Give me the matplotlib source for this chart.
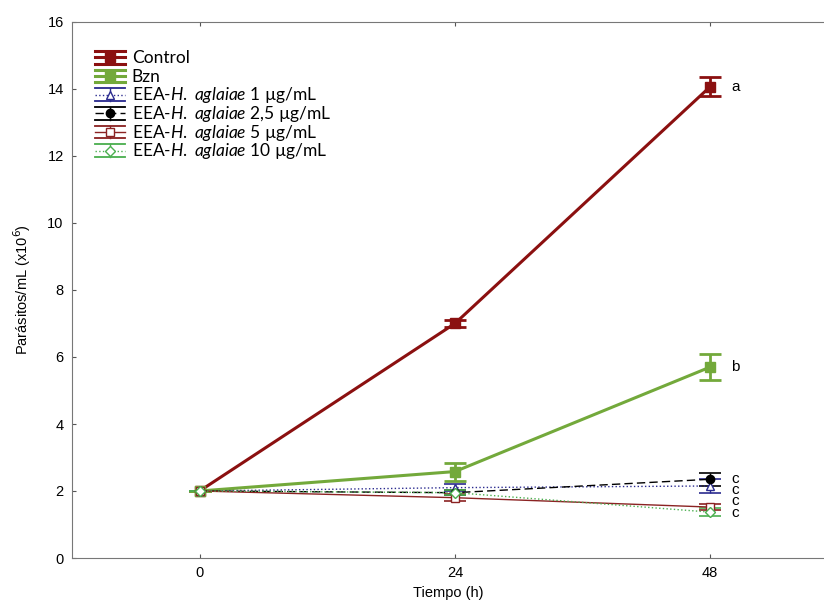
import matplotlib
matplotlib.use("Agg")
import matplotlib.pyplot as plt
from matplotlib.legend_handler import HandlerBase
from matplotlib.lines import Line2D

tiempo = [0, 24, 48]

control = [2.0, 7.0, 14.07]
control_err = [0.0, 0.1, 0.28]
bzn = [2.0, 2.58, 5.7]
bzn_err = [0.0, 0.27, 0.4]
eea1 = [2.0, 2.1, 2.15]
eea1_err = [0.0, 0.1, 0.2]
eea25 = [2.0, 1.95, 2.35]
eea25_err = [0.0, 0.08, 0.2]
eea5 = [2.0, 1.8, 1.52]
eea5_err = [0.0, 0.1, 0.08]
eea10 = [2.0, 1.95, 1.37]
eea10_err = [0.0, 0.08, 0.12]

labels = ["Control", "Bzn",
          "EEA-$\\it{H.\\ aglaiae}$ 1 µg/mL",
          "EEA-$\\it{H.\\ aglaiae}$ 2,5 µg/mL",
          "EEA-$\\it{H.\\ aglaiae}$ 5 µg/mL",
          "EEA-$\\it{H.\\ aglaiae}$ 10 µg/mL"]
letters = ["a", "b", "c", "c", "c", "c"]
letter_y = [14.07, 5.7, 2.36, 2.03, 1.70, 1.34]

plt.rcParams['font.family'] = ['Liberation Sans', 'DejaVu Sans']
plt.rcParams['mathtext.fontset'] = 'custom'
plt.rcParams['mathtext.it'] = 'Lato:italic'
plt.rcParams['mathtext.rm'] = 'Lato'

fig = plt.figure(figsize=(8.24, 6.14), dpi=100)
ax = fig.add_axes([72/824, 56/614, 1 - 72/824, (558-22)/614])

red = "#8B1010"
green = "#73A93B"
blue = "#2B2B8F"
brown = "#8B2323"
lgreen = "#4CAF50"

series = [
    (control, control_err, dict(color=red, lw=2.2, ls='-', marker='s', ms=7, mfc=red, mec=red, capsize=8, elinewidth=2, capthick=2)),
    (bzn, bzn_err, dict(color=green, lw=2.2, ls='-', marker='s', ms=7, mfc=green, mec=green, capsize=8, elinewidth=2, capthick=2)),
    (eea1, eea1_err, dict(color=blue, lw=1, ls=':', marker='^', ms=6, mfc='white', mec=blue, capsize=8, elinewidth=1, capthick=1.2)),
    (eea25, eea25_err, dict(color='black', lw=1, ls=(0, (6, 3)), marker='o', ms=6, mfc='black', mec='black', capsize=8, elinewidth=1, capthick=1.2)),
    (eea5, eea5_err, dict(color=brown, lw=1, ls='-', marker='s', ms=6, mfc='white', mec=brown, capsize=8, elinewidth=1, capthick=1.2)),
    (eea10, eea10_err, dict(color=lgreen, lw=1, ls=':', marker='D', ms=5, mfc='white', mec=lgreen, capsize=8, elinewidth=1, capthick=1.2)),
]

HH = 1.6


class StatHandler(HandlerBase):
    def __init__(self, kw):
        super().__init__()
        self.kw = kw

    def create_artists(self, legend, orig_handle, xdescent, ydescent, width, height, fontsize, trans):
        kw = self.kw
        yc = 0.33 * fontsize
        x0, x1 = -xdescent, width - xdescent
        xm = (x0 + x1) / 2
        cap = 4.6
        artists = []
        lw_cap = kw['capthick'] * 1.1
        for yy in (yc + cap, yc - cap):
            artists.append(Line2D([x0, x1], [yy, yy], color=kw['color'], lw=lw_cap, transform=trans))
        artists.append(Line2D([xm, xm], [yc - cap, yc + cap], color=kw['color'], lw=kw['elinewidth'], transform=trans))
        artists.append(Line2D([x0, x1], [yc, yc], color=kw['color'], lw=kw['lw'], ls=kw['ls'], transform=trans))
        artists.append(Line2D([xm], [yc], marker=kw['marker'], ms=kw['ms'], mfc=kw['mfc'], mec=kw['mec'], ls='none', transform=trans))
        return artists


handles = []
hmap = {}
for (y, e, kw), lab in zip(series, labels):
    h = ax.errorbar(tiempo, y, yerr=e, label=lab, **kw)
    handles.append(h)
    hmap[h] = StatHandler(kw)

for t, yy in zip(letters, letter_y):
    ax.annotate(t, xy=(48, yy), xytext=(15, 0), textcoords='offset points',
                ha='left', va='center', fontsize=11)

ax.set_xlim(-12, 58.7)
ax.set_ylim(0, 16)
ax.set_xticks([0, 24, 48])
ax.set_yticks(range(0, 17, 2))
ax.tick_params(direction='in', length=3, labelsize=10.5, top=True, right=False, pad=6, colors='#555555', labelcolor='black')
for s in ['left', 'bottom', 'top']:
    ax.spines[s].set_color('#777777')
ax.spines['right'].set_visible(False)
ax.set_xlabel("Tiempo (h)", fontsize=10.5, labelpad=4)
ax.set_ylabel("Parásitos/mL (x10$^6$)", fontsize=10.5, labelpad=10)
ax.yaxis.label.set_math_fontfamily('dejavusans')

leg = ax.legend(handles=handles, handler_map=hmap, loc='upper left', frameon=False,
                prop={'family': 'Lato', 'size': 12.5}, handlelength=1.73,
                handleheight=HH, labelspacing=-0.209,
                borderaxespad=0.0, borderpad=0.0,
                handletextpad=0.38, bbox_to_anchor=(0.0306, 0.955))
fig.savefig("out.png", dpi=100)
